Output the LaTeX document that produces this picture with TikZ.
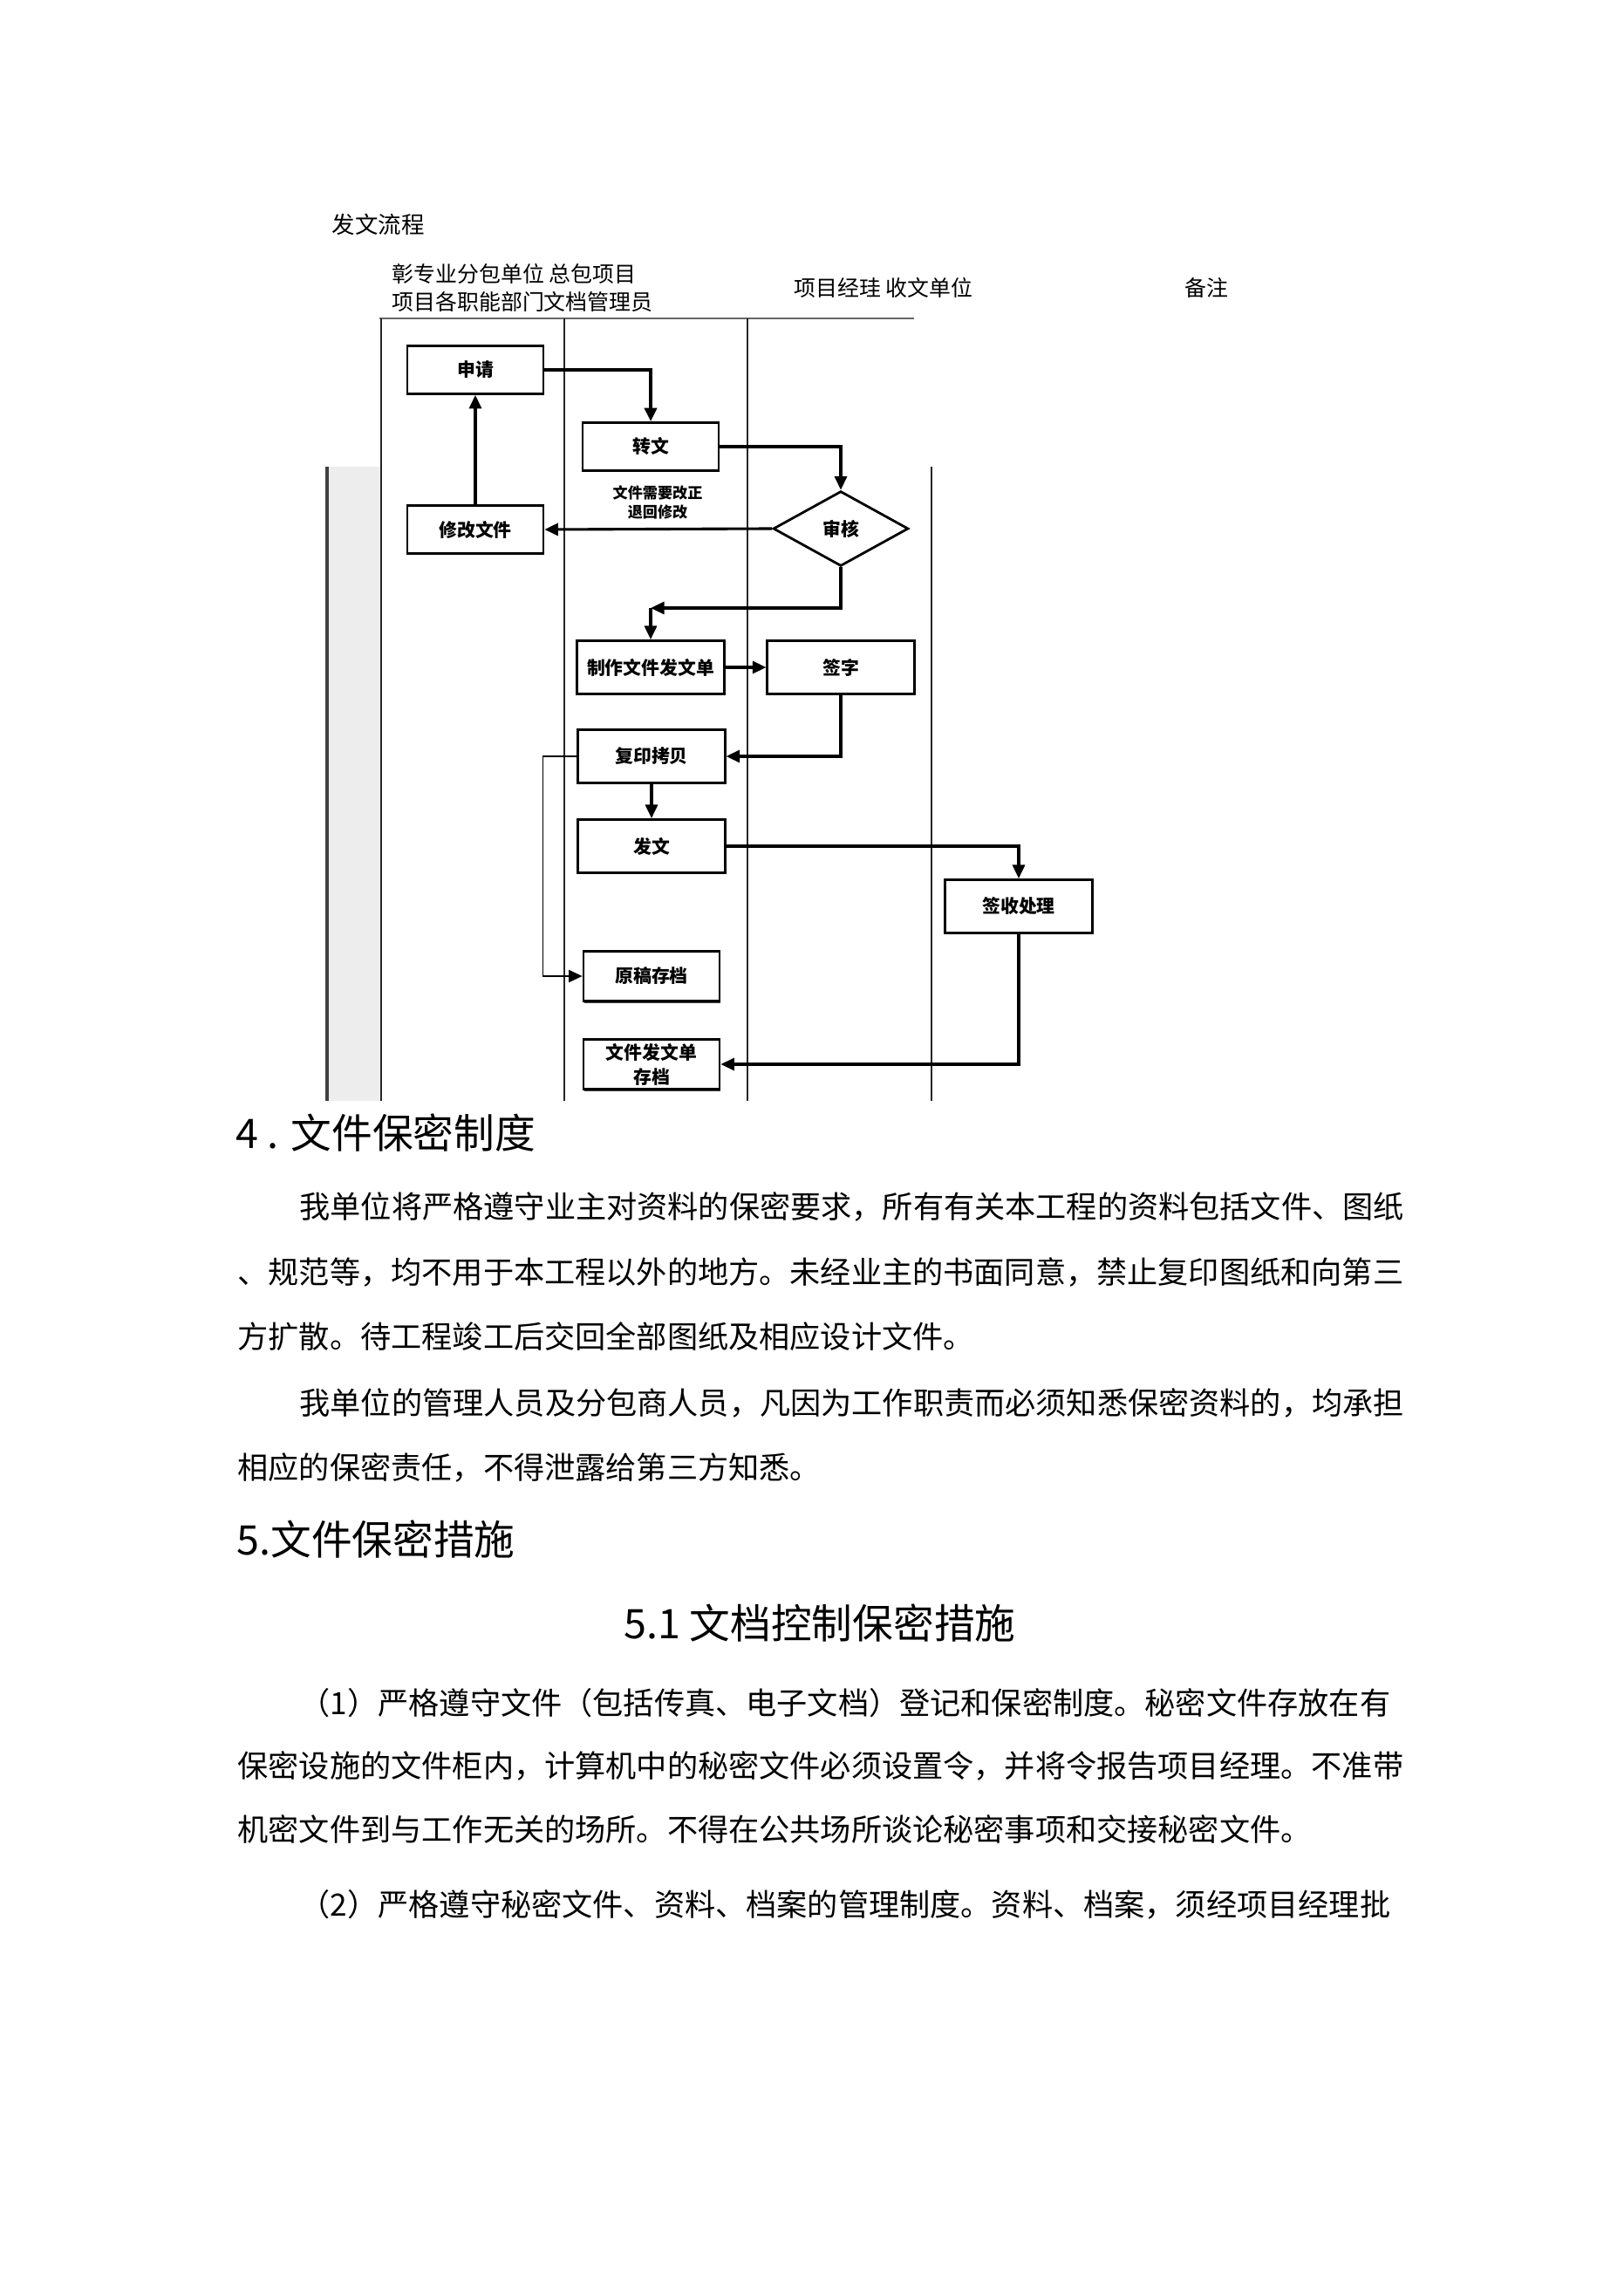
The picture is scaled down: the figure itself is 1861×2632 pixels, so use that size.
\documentclass[tikz,border=0pt]{standalone}
\usepackage{fontspec}
\usepackage{tikz}
\usetikzlibrary{arrows.meta,shapes.geometric,shadows}
\setmainfont{Noto Sans CJK SC}

\tikzset{
  flowbox/.style={draw, line width=0.9pt, fill=white, minimum width=1.76cm, minimum height=0.62cm, inner sep=1pt,
    font=\fontsize{6.7pt}{8pt}\selectfont\bfseries,
    drop shadow={shadow xshift=0.2pt, shadow yshift=-0.6pt, fill=black!75, opacity=1}},
  widebox/.style={flowbox, minimum width=1.9cm, minimum height=0.69cm},
  decide/.style={diamond, draw, line width=0.9pt, fill=white, minimum width=1.75cm, minimum height=0.97cm,
    inner sep=0pt, aspect=1.8, font=\fontsize{6.7pt}{8pt}\selectfont\bfseries},
  flow/.style={-{Triangle[length=5pt,width=4.5pt]}, line width=1pt},
  thinflow/.style={flow, line width=0.6pt},
  lane/.style={line width=0.8pt, black!85},
  headtext/.style={anchor=west, inner sep=0pt, font=\fontsize{8pt}{10pt}\selectfont},
  sechead/.style={anchor=west, inner sep=0pt, font=\fontsize{15pt}{18pt}\selectfont},
  bodyline/.style={anchor=west, inner sep=0pt, font=\fontsize{11.3pt}{13pt}\selectfont}
}

\begin{document}
\begin{tikzpicture}[x=0.011284cm, y=-0.011284cm]
\useasboundingbox (0,0) rectangle (1861,2632);
% lane headers
\node[headtext, font=\fontsize{8.5pt}{10pt}\selectfont] (title) at (380,257) {发文流程};
\node[headtext] (colA1) at (449,314) {彰专业分包单位 总包项目};
\node[headtext] (colA2) at (449,346) {项目各职能部门文档管理员};
\node[headtext] (colB) at (910,330) {项目经珪 收文单位};
\node[headtext] (colC) at (1358,330) {备注};
% lanes
\fill[black!7] (375,535) rectangle (437,1262);
\draw[line width=1.1pt, black!75] (375,535) -- (375,1262);
\draw[lane, black!60] (435,365) -- (1048,365);
\foreach \x in {437,647,857} \draw[lane] (\x,365) -- (\x,1262);
\draw[lane] (1068,535) -- (1068,1262);
% steps
\node[flowbox] (shenqing) at (545,424) {申请};
\node[flowbox] (zhuanwen) at (746,512) {转文};
\node[flowbox] (xiugai) at (545,607) {修改文件};
\node[decide] (shenhe) at (964,606) {审核};
\node[widebox] (zhizuo) at (746,765) {制作文件发文单};
\node[widebox] (qianzi) at (964,765) {签字};
\node[widebox] (fuyin) at (747,867) {复印拷贝};
\node[widebox] (fawen) at (747,970) {发文};
\node[widebox] (qianshou) at (1168,1039) {签收处理};
\node[flowbox, minimum height=0.65cm] (yuangao) at (747,1119) {原稿存档};
\node[flowbox, minimum height=0.65cm, align=center, font=\fontsize{6.7pt}{9pt}\selectfont\bfseries] (cundang) at (747,1220) {文件发文单\\存档};
\node[font=\fontsize{5.5pt}{6.8pt}\selectfont\bfseries, align=center] (note) at (754,576) {文件需要改正\\退回修改};
% flow
\draw[flow, line width=1.2pt] (shenqing.east) -| (zhuanwen.north);
\draw[flow] (zhuanwen.east) -| (shenhe.north);
\draw[flow] (shenhe.west) -- (xiugai.east); % back for changes
\draw[flow] (xiugai.north) -- (shenqing.south);
\coordinate (back) at (746,697);
\draw[flow] (shenhe.south) |- (back);
\draw[flow] (back) -- (zhizuo.north);
\draw[flow] (zhizuo.east) -- (qianzi.west);
\draw[flow] (qianzi.south) |- (fuyin.east);
\draw[flow] (fuyin.south) -- (fawen.north);
\draw[flow] (fawen.east) -| (qianshou.north);
\draw[flow] (qianshou.south) |- (cundang.east);
\draw[thinflow] (fuyin.west) -- ++(-39,0) |- (yuangao.west); % original copy
% text below the chart
\node[sechead] (sec4) at (270,1299) {4 . 文件保密制度};
\node[bodyline] (p1a) at (343,1383) {我单位将严格遵守业主对资料的保密要求，所有有关本工程的资料包括文件、图纸};
\node[bodyline] (p1b) at (272,1458) {、规范等，均不用于本工程以外的地方。未经业主的书面同意，禁止复印图纸和向第三};
\node[bodyline] (p1c) at (272,1532) {方扩散。待工程竣工后交回全部图纸及相应设计文件。};
\node[bodyline] (p2a) at (343,1608) {我单位的管理人员及分包商人员，凡因为工作职责而必须知悉保密资料的，均承担};
\node[bodyline] (p2b) at (272,1682) {相应的保密责任，不得泄露给第三方知悉。};
\node[sechead] (sec5) at (271,1765) {5.文件保密措施};
\node[sechead, anchor=center] (sec51) at (940,1861) {5.1 文档控制保密措施};
\node[bodyline] (p3a) at (343,1952) {（1）严格遵守文件（包括传真、电子文档）登记和保密制度。秘密文件存放在有};
\node[bodyline] (p3b) at (272,2024) {保密设施的文件柜内，计算机中的秘密文件必须设置令，并将令报告项目经理。不准带};
\node[bodyline] (p3c) at (272,2097) {机密文件到与工作无关的场所。不得在公共场所谈论秘密事项和交接秘密文件。};
\node[bodyline] (p4a) at (343,2183) {（2）严格遵守秘密文件、资料、档案的管理制度。资料、档案，须经项目经理批};
\end{tikzpicture}
\end{document}
